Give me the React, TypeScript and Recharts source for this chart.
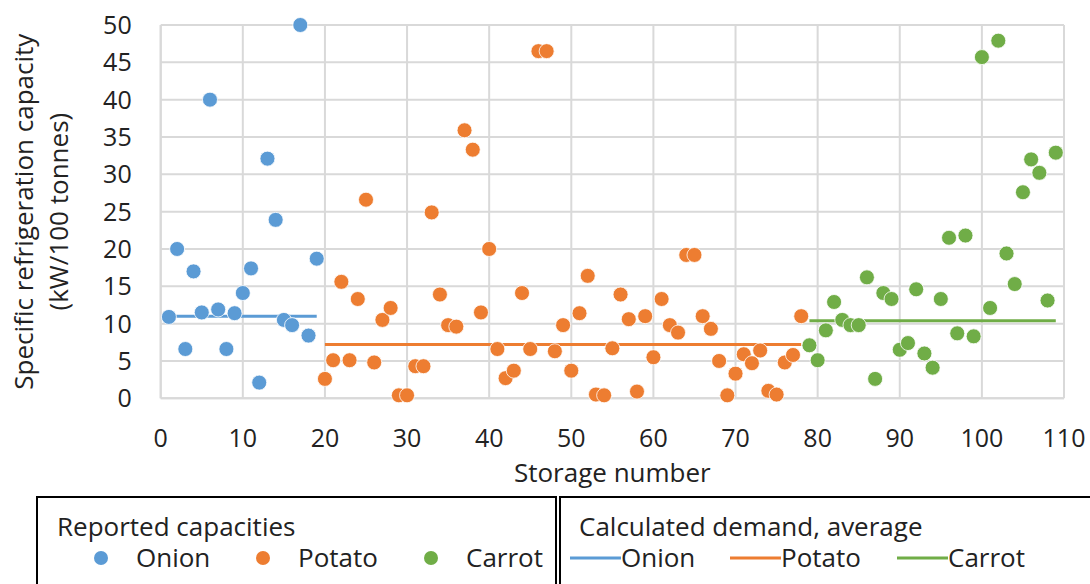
import React from 'react'
import {
    ScatterChart,
    Scatter,
    XAxis,
    YAxis,
    CartesianGrid,
    Label,
} from 'recharts'

// Storage numbers per crop
const onionStorage = [1, 2, 3, 4, 5, 6, 7, 8, 9, 10, 11, 12, 13, 14, 15, 16, 17, 18, 19]
const potatoStorage = [
    20, 21, 22, 23, 24, 25, 26, 27, 28, 29, 30, 31, 32, 33, 34, 35, 36, 37, 38, 39,
    40, 41, 42, 43, 44, 45, 46, 47, 48, 49, 50, 51, 52, 53, 54, 55, 56, 57, 58, 59,
    60, 61, 62, 63, 64, 65, 66, 67, 68, 69, 70, 71, 72, 73, 74, 75, 76, 77, 78,
]
const carrotStorage = [
    79, 80, 81, 82, 83, 84, 85, 86, 87, 88, 89, 90, 91, 92, 93, 94, 95, 96, 97, 98,
    99, 100, 101, 102, 103, 104, 105, 106, 107, 108, 109,
]

// Reported capacities (kW/100 tonnes)
const onionReported = [10.9, 20, 6.6, 17, 11.5, 40, 11.9, 6.6, 11.4, 14.1, 17.4, 2.1, 32.1, 23.9, 10.5, 9.8, 50, 8.4, 18.7]
const potatoReported = [
    2.6, 5.1, 15.6, 5.1, 13.3, 26.6, 4.8, 10.5, 12.1, 0.4, 0.4, 4.3, 4.3, 24.9, 13.9, 9.8, 9.6, 35.9, 33.3, 11.5,
    20.0, 6.6, 2.7, 3.7, 14.1, 6.6, 46.5, 46.5, 6.3, 9.8, 3.7, 11.4, 16.4, 0.5, 0.4, 6.7, 13.9, 10.6, 0.9, 11.0,
    5.5, 13.3, 9.8, 8.8, 19.2, 19.2, 11.0, 9.3, 5.0, 0.4, 3.3, 5.9, 4.7, 6.4, 1.0, 0.5, 4.8, 5.8, 11.0,
]
const carrotReported = [
    7.1, 5.1, 9.1, 12.9, 10.5, 9.8, 9.8, 16.2, 2.6, 14.1, 13.3, 6.5, 7.4, 14.6, 6.0, 4.1, 13.3, 21.5, 8.7, 21.8,
    8.3, 45.7, 12.1, 47.9, 19.4, 15.3, 27.6, 32.0, 30.2, 13.1, 32.9,
]

// Calculated demand, average
const onionAverage = 11.0
const potatoAverage = 7.2
const carrotAverage = 10.4

const xTicks = [0, 10, 20, 30, 40, 50, 60, 70, 80, 90, 100, 110]
const yTicks = [0, 5, 10, 15, 20, 25, 30, 35, 40, 45, 50]

const crops = [
    { name: 'Onion', color: '#5B9BD5', storage: onionStorage, reported: onionReported, average: onionAverage },
    { name: 'Potato', color: '#ED7D31', storage: potatoStorage, reported: potatoReported, average: potatoAverage },
    { name: 'Carrot', color: '#70AD47', storage: carrotStorage, reported: carrotReported, average: carrotAverage },
]

const FONT = '"Open Sans", sans-serif'
const TEXT = '#222'
const GRID = '#D9D9D9'

const YTitle = ({ viewBox }: any) => {
    const cy = viewBox.y + viewBox.height / 2
    return (
        <g fill={TEXT} fontSize={26} fontFamily={FONT}>
            <text x={33} y={cy} textAnchor="middle" transform={`rotate(-90, 33, ${cy})`}>
                Specific refrigeration capacity
            </text>
            <text x={68} y={cy} textAnchor="middle" transform={`rotate(-90, 68, ${cy})`}>
                (kW/100 tonnes)
            </text>
        </g>
    )
}

const Dot = (color: string) => (props: any) => (
    <circle cx={props.cx} cy={props.cy} r={7.5} fill={color} stroke="#fff" strokeWidth={0.8} />
)

const NoDot = () => <g />

function LegendBoxes() {
    const dotX = [101, 263, 431]
    const lineX = [570, 730, 897]
    return (
        <svg width={1090} height={584} style={{ position: 'absolute', left: 0, top: 0, pointerEvents: 'none' }}>
            <g fontFamily={FONT} fontSize={26} fill={TEXT}>
                <rect x={37} y={497} width={519} height={120} fill="none" stroke="#000" strokeWidth={2} />
                <rect x={560} y={497} width={560} height={120} fill="none" stroke="#000" strokeWidth={2} />
                <text x={57} y={536}>Reported capacities</text>
                <text x={579} y={536}>Calculated demand, average</text>
                {crops.map((c, i) => (
                    <g key={`dot-${c.name}`}>
                        <circle cx={dotX[i]} cy={558} r={7} fill={c.color} />
                        <text x={dotX[i] + 35} y={567}>{c.name}</text>
                    </g>
                ))}
                {crops.map((c, i) => (
                    <g key={`line-${c.name}`}>
                        <line x1={lineX[i]} x2={lineX[i] + 51} y1={558} y2={558} stroke={c.color} strokeWidth={3} />
                        <text x={lineX[i] + 51} y={567}>{c.name}</text>
                    </g>
                ))}
            </g>
        </svg>
    )
}

export default function App() {
    return (
        <div style={{ position: 'absolute', left: 0, top: 0, width: 1090, height: 584, background: '#fff' }}>
            <ScatterChart
                width={1090}
                height={584}
                margin={{ top: 25, right: 26, bottom: 101.7, left: 0 }}
                style={{ fontFamily: FONT }}
            >
                <CartesianGrid stroke={GRID} strokeWidth={2} horizontalValues={yTicks} verticalValues={xTicks} />
                <XAxis
                    type="number"
                    dataKey="x"
                    domain={[0, 110]}
                    ticks={xTicks}
                    interval={0}
                    height={84}
                    tickLine={false}
                    tickMargin={24.5}
                    axisLine={{ stroke: GRID, strokeWidth: 2 }}
                    tick={{ fill: TEXT, fontSize: 25 }}
                >
                    <Label value="Storage number" position="insideBottom" offset={0} fill={TEXT} fontSize={26} />
                </XAxis>
                <YAxis
                    type="number"
                    dataKey="y"
                    domain={[0, 50]}
                    ticks={yTicks}
                    interval={0}
                    width={160.7}
                    tickLine={false}
                    tickMargin={23}
                    axisLine={{ stroke: GRID, strokeWidth: 2 }}
                    tick={{ fill: TEXT, fontSize: 25 }}
                >
                    <Label content={YTitle} />
                </YAxis>
                {crops.map(c => (
                    <Scatter
                        key={`avg-${c.name}`}
                        name={`${c.name} average`}
                        data={[
                            { x: c.storage[0], y: c.average },
                            { x: c.storage[c.storage.length - 1], y: c.average },
                        ]}
                        line={{ stroke: c.color, strokeWidth: 3 }}
                        shape={NoDot}
                        isAnimationActive={false}
                    />
                ))}
                {crops.map(c => (
                    <Scatter
                        key={`rep-${c.name}`}
                        name={c.name}
                        data={c.storage.map((s, i) => ({ x: s, y: c.reported[i] }))}
                        shape={Dot(c.color)}
                        isAnimationActive={false}
                    />
                ))}
            </ScatterChart>
            <LegendBoxes />
        </div>
    )
}
